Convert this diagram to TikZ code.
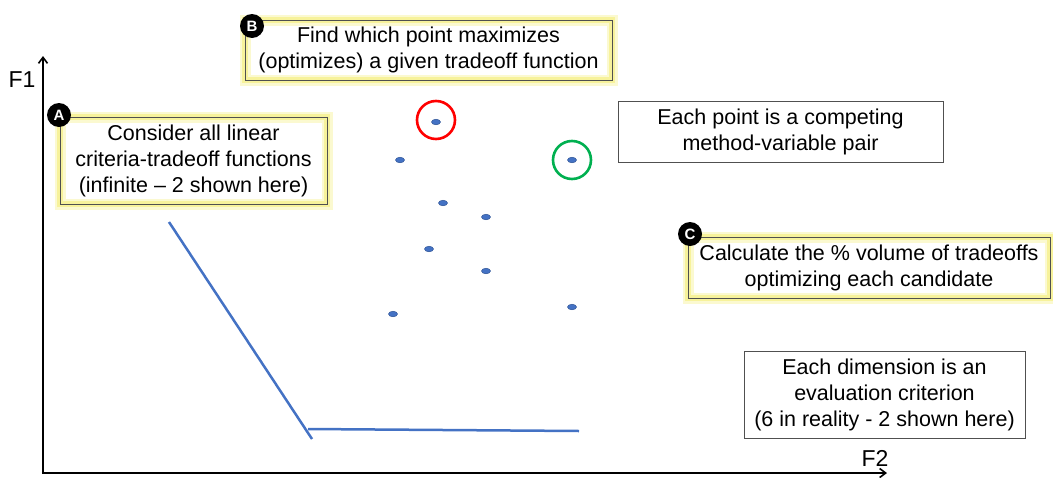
\documentclass[tikz,border=0pt]{standalone}
\usepackage{fontspec}
\setmainfont{Liberation Sans}
\usetikzlibrary{arrows.meta,shapes.geometric}
\definecolor{ptblue}{HTML}{4472C4}
\definecolor{ptedge}{HTML}{2F5597}
\definecolor{glowy}{HTML}{F4EE7A}
\definecolor{boxgray}{HTML}{505050}
\definecolor{okgreen}{HTML}{00B050}
\tikzset{
  txt/.style={font=\fontsize{21.5}{26}\selectfont, align=center, inner sep=0pt},
  plainbox/.style={txt, draw=boxgray, line width=1pt},
  glowbox/.style={plainbox,
    preaction={draw=glowy!35, line width=11pt},
    preaction={draw=glowy!75, line width=6pt}},
  badge/.style={circle, fill=black, text=white, minimum size=24pt, inner sep=0pt,
    font=\fontsize{15}{15}\selectfont\bfseries},
  dot/.style={ellipse, fill=ptblue, draw=ptedge, line width=0.5pt, minimum width=9pt, minimum height=5.5pt, inner sep=0pt},
  tradeoff/.style={draw=ptblue, line width=2.5pt},
  axis/.style={draw=black, line width=2.4pt, -{Straight Barb[length=6pt,width=9pt,line width=1.6pt]}},
  ring/.style={circle, line width=2.6pt, minimum size=38pt, inner sep=0pt}
}
\begin{document}
\begin{tikzpicture}[x=1pt,y=-1pt]
\useasboundingbox (0,0) rectangle (1053,477);
% axes
\coordinate (origin) at (43,473);
\coordinate (ytop) at (43,56);
\coordinate (xend) at (887,473);
\draw[axis] (origin) -- (ytop);
\draw[axis] ([xshift=-1.2pt]origin) -- (xend);
\node[txt, font=\fontsize{23}{26}\selectfont] (f1) at (22,80) {F1};
\node[txt, font=\fontsize{23}{26}\selectfont] (f2) at (875,458) {F2};
% tradeoff functions
\coordinate (l1a) at (169,222);
\coordinate (l1b) at (312,439);
\coordinate (l2a) at (308,429);
\coordinate (l2b) at (579,431);
\draw[tradeoff] (l1a) -- (l1b);
\draw[tradeoff] (l2a) -- (l2b);
% points
\node[dot] (p1) at (436,122) {};
\node[dot] (p2) at (400,160) {};
\node[dot] (p3) at (572,160) {};
\node[dot] (p4) at (443,203) {};
\node[dot] (p5) at (486,217) {};
\node[dot] (p6) at (429,249) {};
\node[dot] (p7) at (486,271) {};
\node[dot] (p8) at (572,307) {};
\node[dot] (p9) at (393,314) {};
\node[ring, draw=red] (r1) at (436,120) {};
\node[ring, draw=okgreen] (r2) at (572,160) {};
% boxes
\node[glowbox, minimum width=267pt, minimum height=87pt] (boxA) at (193.5,160.5)
  {Consider all linear\\criteria-tradeoff functions\\(infinite -- 2 shown here)};
\node[glowbox, minimum width=367pt, minimum height=60pt] (boxB) at (428.5,50)
  {Find which point maximizes\\(optimizes) a given tradeoff function};
\node[plainbox, minimum width=325pt, minimum height=61pt] (boxP) at (780.5,131.5)
  {Each point is a competing\\method-variable pair};
\node[glowbox, minimum width=362pt, minimum height=61pt] (boxC) at (869,267.5)
  {Calculate the \% volume of tradeoffs\\optimizing each candidate};
\node[plainbox, minimum width=281pt, minimum height=87pt] (boxD) at (884.5,394.5)
  {Each dimension is an\\evaluation criterion\\(6 in reality - 2 shown here)};
% badges
\node[badge] (bA) at (59,115) {A};
\node[badge] (bB) at (252,26) {B};
\node[badge] (bC) at (690,234) {C};
\end{tikzpicture}
\end{document}
